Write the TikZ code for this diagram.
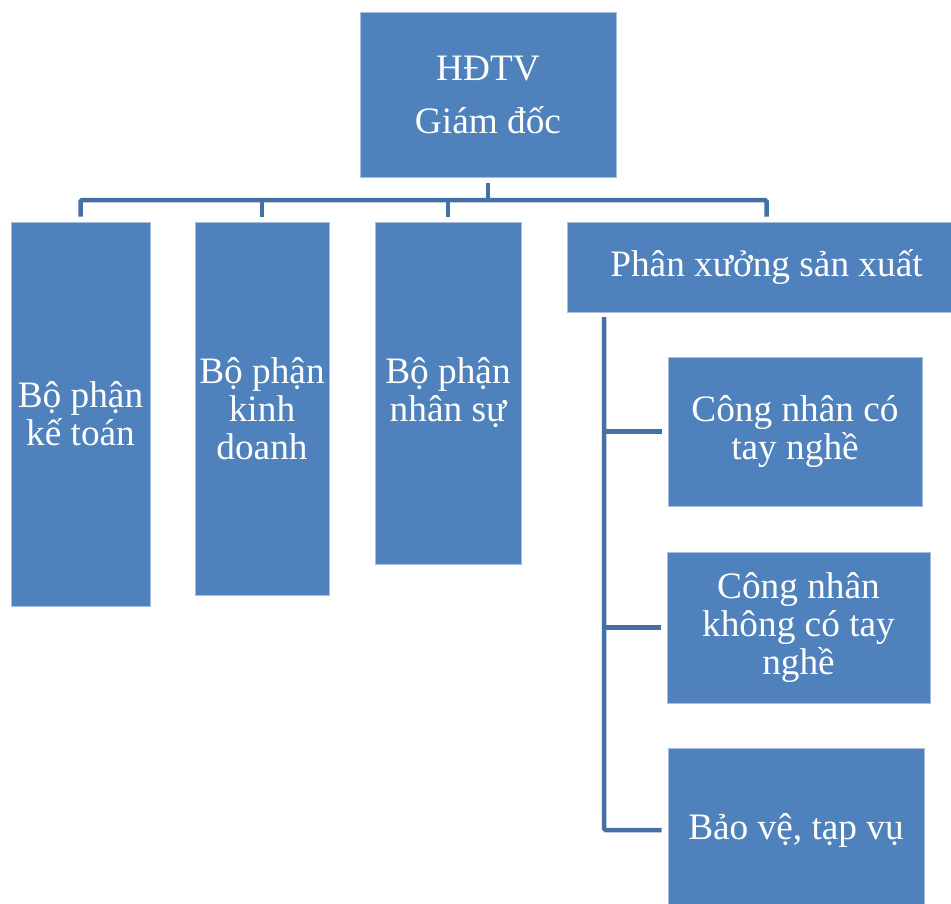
\documentclass[tikz,border=0pt]{standalone}
\usepackage{fontspec}
\setmainfont{Liberation Serif}
\definecolor{boxblue}{HTML}{4F81BD}
\definecolor{boxedge}{HTML}{A7BEDD}
\definecolor{linkblue}{HTML}{4470A6}
\begin{document}
\begin{tikzpicture}[x=1pt,y=-1pt,
  box/.style={fill=boxblue,draw=boxedge,line width=0.8pt,text=white,align=center,
    inner sep=0pt,font=\fontsize{37.3}{38}\selectfont},
  link/.style={draw=linkblue,line width=4.5pt,rounded corners=1.5pt}]
\useasboundingbox (0,0) rectangle (951,903);
\begin{scope}
\clip (0,0) rectangle (951,903);
\node[box,minimum width=256,minimum height=165,font=\fontsize{37.3}{53}\selectfont] (top) at (488,94.5) {HĐTV\\Giám đốc};
\node[box,minimum width=139,minimum height=384] (kt) at (80.5,414) {Bộ phận\\kế toán};
\node[box,minimum width=134,minimum height=373] (kd) at (262,408.5) {Bộ phận\\kinh\\doanh};
\node[box,minimum width=146,minimum height=342] (ns) at (448,393) {Bộ phận\\nhân sự};
\node[box,minimum width=399,minimum height=90] (px) at (766.5,267) {Phân xưởng sản xuất};
\node[box,minimum width=254,minimum height=149] (cn1) at (795,431.5) {Công nhân có\\tay nghề};
\node[box,minimum width=263,minimum height=151] (cn2) at (798.5,627.5) {Công nhân\\không có tay\\nghề};
\node[box,minimum width=256,minimum height=164] (bv) at (796,830) {Bảo vệ, tạp vụ};
\coordinate (bus) at (488,200);
\coordinate (sub) at (604,317);
\draw[link] ([yshift=-6pt]top.south) -- (bus);
\draw[link] ([yshift=5pt]kt.north) -- (kt.north |- bus) -- (px.north |- bus) -- ([yshift=5pt]px.north);
\draw[link] ([yshift=5pt]kd.north) -- (kd.north |- bus);
\draw[link] ([yshift=5pt]ns.north) -- (ns.north |- bus);
\draw[link] (sub) -- (sub |- bv.west) -- ([xshift=-6pt]bv.west);
\draw[link] (sub |- cn1.west) -- ([xshift=-6pt]cn1.west);
\draw[link] (sub |- cn2.west) -- ([xshift=-6pt]cn2.west);
\end{scope}
\end{tikzpicture}
\end{document}
